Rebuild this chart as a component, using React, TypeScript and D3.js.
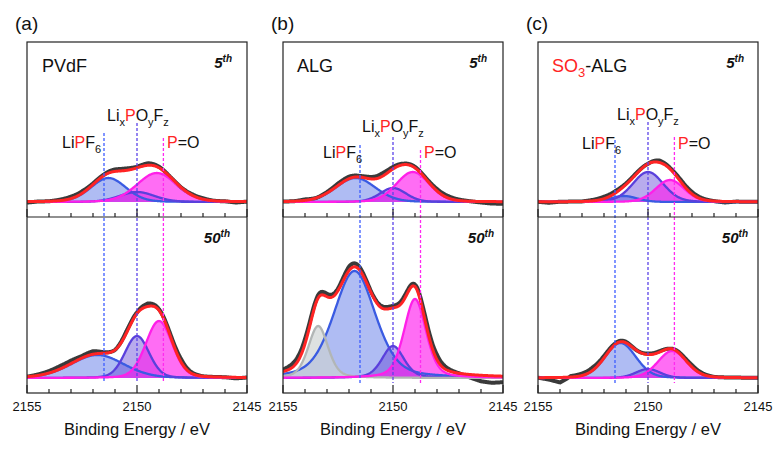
import React from "react";
import * as d3 from "d3";

// ---------------- data ----------------
const panelTags = ["(a)", "(b)", "(c)"];
const binderNames = ["PVdF", "ALG", "SO3-ALG"];
const cycleNumbers = ["5", "50"];
const xTickLabels = [2155, 2150, 2145];
const xMinorTicks = [2154, 2153, 2152, 2151, 2149, 2148, 2147, 2146];
const refEnergies = [
  [2151.5, 2150.0, 2148.8],
  [2151.5, 2150.0, 2148.75],
  [2151.5, 2150.0, 2148.8],
];
const refKinds = ["lipf6", "lixpoyfz", "po"];

// fitted peaks (center eV, height in counts, gaussian sigma eV)
const peaksA5 = [
  { kind: "lipf6", center: 2151.3, height: 24, sigma: 0.8 },
  { kind: "lixpoyfz", center: 2150.0, height: 10, sigma: 0.8 },
  { kind: "po", center: 2149.1, height: 29, sigma: 0.9 },
];
const peaksA50 = [
  { kind: "lipf6", center: 2151.8, height: 23, sigma: 1.2 },
  { kind: "lixpoyfz", center: 2150.0, height: 42, sigma: 0.55 },
  { kind: "po", center: 2149.0, height: 57, sigma: 0.6 },
];
const peaksB5 = [
  { kind: "lipf6", center: 2151.7, height: 24, sigma: 0.9 },
  { kind: "lixpoyfz", center: 2150.0, height: 14, sigma: 0.6 },
  { kind: "po", center: 2149.1, height: 30, sigma: 0.75 },
];
const peaksB50 = [
  { kind: "other", center: 2153.4, height: 52, sigma: 0.45 },
  { kind: "lipf6", center: 2151.75, height: 107, sigma: 0.95 },
  { kind: "lixpoyfz", center: 2150.0, height: 32, sigma: 0.5 },
  { kind: "po", center: 2149.0, height: 79, sigma: 0.5 },
];
const peaksC5 = [
  { kind: "lipf6", center: 2151.1, height: 6, sigma: 0.6 },
  { kind: "lixpoyfz", center: 2150.0, height: 30, sigma: 0.7 },
  { kind: "po", center: 2149.0, height: 22, sigma: 0.65 },
];
const peaksC50 = [
  { kind: "lipf6", center: 2151.25, height: 35, sigma: 0.7 },
  { kind: "lixpoyfz", center: 2150.0, height: 9, sigma: 0.55 },
  { kind: "po", center: 2148.9, height: 27, sigma: 0.65 },
];

// measured-minus-fit residuals, 2155 -> 2145 eV every 0.5 eV
const residA5 = [-1, 0, 0, 1, 2, 2, 1, 1, 2, 2, 1, 2, 1, 0, 0, 1, 1, 0, 0, -1, 0];
const residA50 = [0, 1, 2, 3, 3, 2, 3, 1, 0, 2, 1, 3, 1, 2, 3, 1, 0, 0, 0, -1, 0];
const residB5 = [0, 0, 1, 0, 1, 2, 2, 1, 2, 3, 2, 1, 1, 1, 2, 2, 1, 0, -1, -2, -2];
const residB50 = [2, 4, 5, 3, 3, 2, 4, 3, 1, 2, 2, 3, 2, 5, 5, 2, 0, -3, -6, -7, -6];
const residC5 = [0, -1, 0, 0, 0, 1, 2, 2, 1, 1, 0, 2, 1, 2, 2, 1, 0, -1, 0, 0, 0];
const residC50 = [0, -2, -5, 1, 2, 3, 2, 1, 1, 0, 1, 1, 0, 1, 2, 1, 0, 0, 0, 0, 0];
const residEnergies = d3.range(21).map((i) => 2155 - 0.5 * i);

const lorentzShare = [0.15, 0.15, 0.15, 0.35, 0.15, 0.15];

// ---------------- layout ----------------
const panelLeft = [27, 283, 538];
const panelW = 220;
const topY = 42;
const midY = 217;
const botY = 393;
const labelPos = [
  { lipf6: [62, 148, 133], lixpoyfz: [107, 121, 123], po: [167, 148, 138], name: 42, c5: 232, c50: 230 },
  { lipf6: [323, 158, 145], lixpoyfz: [362, 132, 137], po: [424, 158, 150], name: 297, c5: 487, c50: 494 },
  { lipf6: [582, 149, 140], lixpoyfz: [617, 120, 122], po: [678, 149, 137], name: 552, c5: 744, c50: 748 },
];

const styles: Record<string, { stroke: string; fill: string; op: number }> = {
  lipf6: { stroke: "#3a5be2", fill: "#4d6ae4", op: 0.45 },
  lixpoyfz: { stroke: "#5a40dc", fill: "#6244d6", op: 0.45 },
  po: { stroke: "#ff1fe8", fill: "#ff14ee", op: 0.62 },
  other: { stroke: "#b2b6b6", fill: "#cdd1d1", op: 0.65 },
};
const dashColors: Record<string, string> = {
  lipf6: "#3d5cff",
  lixpoyfz: "#5c44e8",
  po: "#ff2af0",
};
const RED = "#ff2424";
const FONT = "'Liberation Sans', Arial, sans-serif";

function pv(x: number, p: { center: number; height: number; sigma: number }, eta: number) {
  const d = x - p.center;
  const g = Math.exp((-d * d) / (2 * p.sigma * p.sigma));
  const gamma = 1.1774 * p.sigma;
  const l = 1 / (1 + (d / gamma) * (d / gamma));
  return p.height * ((1 - eta) * g + eta * l);
}

const grid = d3.range(0, 501).map((i) => 2155 - i * 0.02);

function Subplot({ panel, row, peaks, resid, eta }: any) {
  const x = d3.scaleLinear().domain([2155, 2145]).range([panelLeft[panel], panelLeft[panel] + panelW]);
  const y0 = row === 0 ? topY : midY;
  const y1 = row === 0 ? midY : botY;
  const y = d3.scaleLinear().domain([-15, y1 - y0 - 15]).range([y1, y0]);
  const residAt = d3.scaleLinear().domain(residEnergies).range(resid);

  const area = d3
    .area<number>()
    .x((e) => x(e))
    .y0(y(0))
    .curve(d3.curveLinear);
  const line = d3.line<[number, number]>().x((d) => x(d[0])).y((d) => y(d[1]));

  const envelope = grid.map((e) => [e, d3.sum(peaks, (p: any) => pv(e, p, eta))] as [number, number]);
  const raw = grid.map((e, i) => [e, envelope[i][1] + residAt(e)] as [number, number]);

  const order = ["lipf6", "lixpoyfz", "other", "po"];
  const sorted = [...peaks].sort((a: any, b: any) => order.indexOf(a.kind) - order.indexOf(b.kind));

  return (
    <g>
      {sorted.map((p: any, i: number) => (
        <path
          key={"f" + i}
          d={area.y1((e) => y(pv(e, p, eta)))(grid) || ""}
          fill={styles[p.kind].fill}
          fillOpacity={styles[p.kind].op}
        />
      ))}
      <path d={line(raw) || ""} fill="none" stroke="#3a3a3a" strokeWidth={4} strokeLinejoin="round" />
      {sorted.map((p: any, i: number) => (
        <path
          key={"s" + i}
          d={line(grid.map((e) => [e, pv(e, p, eta)] as [number, number])) || ""}
          fill="none"
          stroke={styles[p.kind].stroke}
          strokeWidth={2.3}
        />
      ))}
      <path d={line(envelope) || ""} fill="none" stroke={RED} strokeWidth={3} />
    </g>
  );
}

function PeakLabel({ kind, xx, yy }: { kind: string; xx: number; yy: number }) {
  const sub = { fontSize: 11 };
  if (kind === "lipf6")
    return (
      <text x={xx} y={yy} fontSize={16} fontFamily={FONT} fill="#111">
        <tspan>Li</tspan>
        <tspan fill={RED}>P</tspan>
        <tspan>F</tspan>
        <tspan dy={5} {...sub}>6</tspan>
      </text>
    );
  if (kind === "lixpoyfz")
    return (
      <text x={xx} y={yy} fontSize={16} fontFamily={FONT} fill="#111">
        <tspan>Li</tspan>
        <tspan dy={5} {...sub}>x</tspan>
        <tspan dy={-5} fill={RED}>P</tspan>
        <tspan>O</tspan>
        <tspan dy={5} {...sub}>y</tspan>
        <tspan dy={-5}>F</tspan>
        <tspan dy={5} {...sub}>z</tspan>
      </text>
    );
  return (
    <text x={xx} y={yy} fontSize={16} fontFamily={FONT} fill="#111">
      <tspan fill={RED}>P</tspan>
      <tspan>=O</tspan>
    </text>
  );
}

export default function App() {
  const subplots = [
    [peaksA5, peaksA50],
    [peaksB5, peaksB50],
    [peaksC5, peaksC50],
  ];
  const resids = [
    [residA5, residA50],
    [residB5, residB50],
    [residC5, residC50],
  ];
  return (
    <svg width={780} height={451} style={{ position: "absolute", left: 0, top: 0, background: "#fff" }}>
      <rect width={780} height={451} fill="#fff" />
      {[0, 1, 2].map((pi) => {
        const left = panelLeft[pi];
        const x = d3.scaleLinear().domain([2155, 2145]).range([left, left + panelW]);
        const lp: any = labelPos[pi];
        return (
          <g key={pi}>
            <defs>
              <clipPath id={"clip" + pi}>
                <rect x={left} y={topY} width={panelW} height={botY - topY} />
              </clipPath>
            </defs>
            <g clipPath={`url(#clip${pi})`}>
              {[0, 1].map((row) => (
                <Subplot
                  key={row}
                  panel={pi}
                  row={row}
                  peaks={subplots[pi][row]}
                  resid={resids[pi][row]}
                  eta={lorentzShare[pi * 2 + row]}
                />
              ))}
            </g>
            {/* reference dashed lines */}
            {refEnergies[pi].map((e, k) => (
              <line
                key={k}
                x1={x(e)}
                x2={x(e)}
                y1={lp[refKinds[k]][2]}
                y2={383}
                stroke={dashColors[refKinds[k]]}
                strokeWidth={1.3}
                strokeDasharray="3,2"
              />
            ))}
            {refKinds.map((k) => (
              <PeakLabel key={k} kind={k} xx={lp[k][0]} yy={lp[k][1]} />
            ))}
            {/* frames */}
            <rect x={left} y={topY} width={panelW} height={botY - topY} fill="none" stroke="#222" strokeWidth={1.2} />
            <line x1={left} x2={left + panelW} y1={midY} y2={midY} stroke="#222" strokeWidth={1.2} />
            {/* ticks */}
            {[midY, botY].map((by) => (
              <g key={by}>
                {xMinorTicks.map((t) => (
                  <line key={t} x1={x(t)} x2={x(t)} y1={by} y2={by - 4} stroke="#222" strokeWidth={1.2} />
                ))}
                {xTickLabels.map((t) => (
                  <line key={t} x1={x(t)} x2={x(t)} y1={by} y2={by - 8} stroke="#222" strokeWidth={1.2} />
                ))}
              </g>
            ))}
            {xTickLabels.map((t) => (
              <text key={t} x={x(t)} y={411} textAnchor="middle" fontSize={13} fontFamily={FONT} fill="#111">
                {t}
              </text>
            ))}
            <text x={left + panelW / 2} y={435} textAnchor="middle" fontSize={16.5} fontFamily={FONT} fill="#111">
              Binding Energy / eV
            </text>
            <text x={left - 12} y={30} fontSize={19} fontFamily={FONT} fill="#111">
              {panelTags[pi]}
            </text>
            {binderNames[pi] === "SO3-ALG" ? (
              <text x={lp.name} y={72} fontSize={18} fontFamily={FONT} fill="#111">
                <tspan fill={RED}>SO</tspan>
                <tspan fill={RED} dy={5} fontSize={13}>3</tspan>
                <tspan dy={-5}>-ALG</tspan>
              </text>
            ) : (
              <text x={lp.name} y={72} fontSize={18} fontFamily={FONT} fill="#111">
                {binderNames[pi]}
              </text>
            )}
            {[0, 1].map((row) => (
              <text
                key={row}
                x={row === 0 ? lp.c5 : lp.c50}
                y={row === 0 ? 68 : 243}
                textAnchor="end"
                fontSize={15}
                fontWeight="bold"
                fontStyle="italic"
                fontFamily={FONT}
                fill="#111"
              >
                {cycleNumbers[row]}
                <tspan dy={-6} fontSize={10}>th</tspan>
              </text>
            ))}
          </g>
        );
      })}
    </svg>
  );
}
